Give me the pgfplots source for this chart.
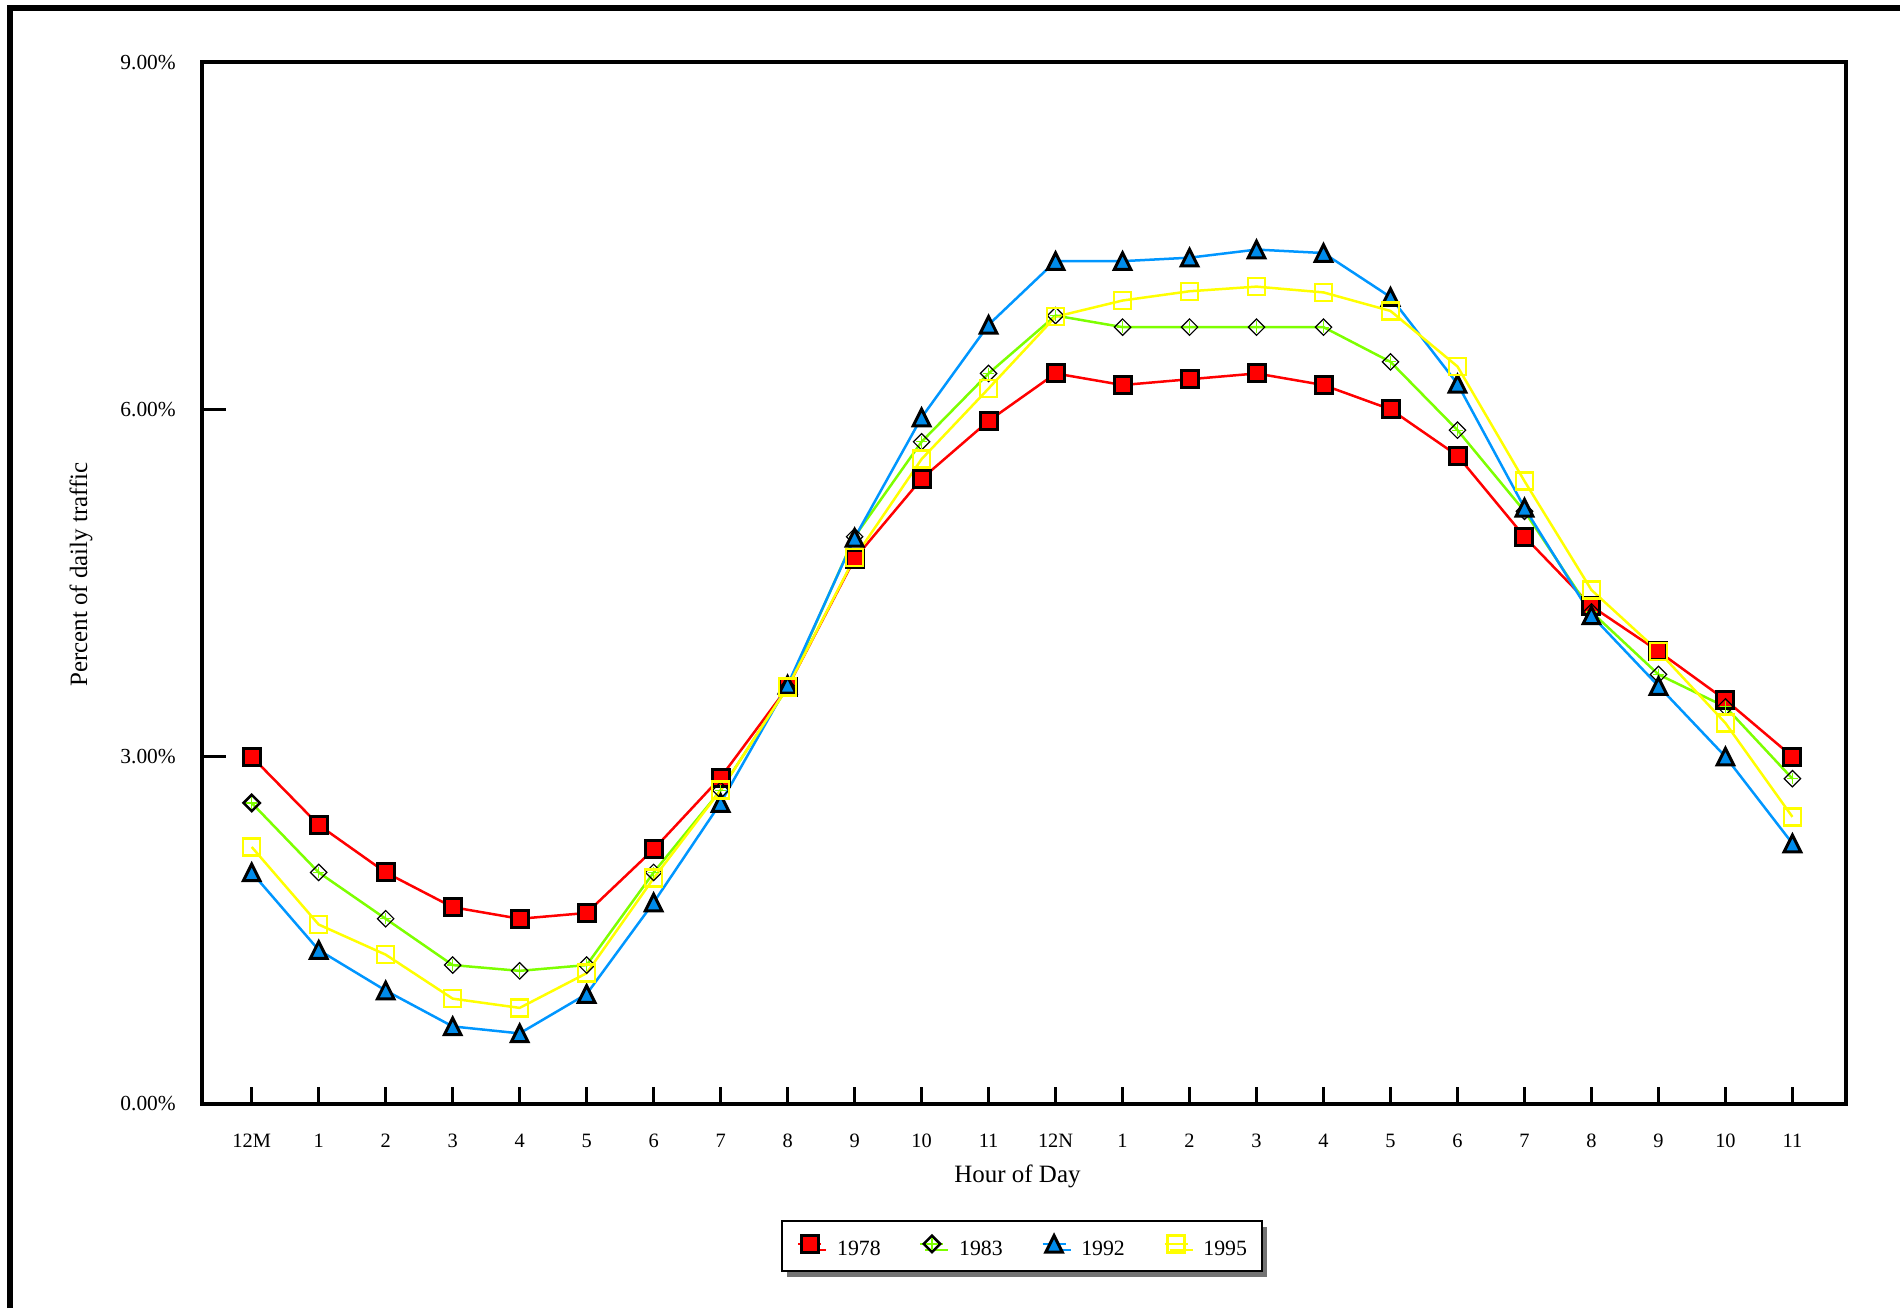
\documentclass[border=0pt]{standalone}
\usepackage{fontspec}
\setmainfont{Liberation Serif}
\usepackage{pgfplots}
\usepackage{pgfplotstable}
\pgfplotsset{compat=1.18}
\usetikzlibrary{shadows}

\definecolor{cred}{RGB}{255,0,0}
\definecolor{cgreen}{RGB}{125,255,0}
\definecolor{cblue}{RGB}{0,150,255}
\definecolor{cbluefill}{RGB}{0,140,235}
\definecolor{cyellow}{RGB}{255,255,0}

% hollow diamond with a thin green cross inside
\pgfdeclareplotmark{diamplus}{%
  \pgfpathmoveto{\pgfqpoint{0pt}{\pgfplotmarksize}}%
  \pgfpathlineto{\pgfqpoint{\pgfplotmarksize}{0pt}}%
  \pgfpathlineto{\pgfqpoint{0pt}{-\pgfplotmarksize}}%
  \pgfpathlineto{\pgfqpoint{-\pgfplotmarksize}{0pt}}%
  \pgfpathclose
  \pgfsetstrokecolor{black}%
  \pgfusepathqstroke
  \pgfsetlinewidth{0.12mm}%
  \pgfpathmoveto{\pgfqpoint{0pt}{0.7\pgfplotmarksize}}%
  \pgfpathlineto{\pgfqpoint{0pt}{-0.7\pgfplotmarksize}}%
  \pgfpathmoveto{\pgfqpoint{0.7\pgfplotmarksize}{0pt}}%
  \pgfpathlineto{\pgfqpoint{-0.7\pgfplotmarksize}{0pt}}%
  \pgfsetstrokecolor{cgreen}%
  \pgfusepathqstroke
}
% triangle centred on its bounding box
\pgfdeclareplotmark{tri}{%
  \pgfpathmoveto{\pgfqpoint{0pt}{\pgfplotmarksize}}%
  \pgfpathlineto{\pgfqpoint{\pgfplotmarksize}{-\pgfplotmarksize}}%
  \pgfpathlineto{\pgfqpoint{-\pgfplotmarksize}{-\pgfplotmarksize}}%
  \pgfpathclose
  \pgfusepathqfillstroke
}

% share of daily traffic per hour (percent)
\pgfplotstableread{
h  r78   g83   b92   y95
0  3.00  2.60  2.00  2.22
1  2.41  2.00  1.33  1.55
2  2.00  1.60  0.98  1.29
3  1.70  1.20  0.67  0.91
4  1.60  1.15  0.61  0.83
5  1.65  1.20  0.95  1.13
6  2.20  2.00  1.74  1.95
7  2.82  2.71  2.60  2.71
8  3.60  3.60  3.62  3.60
9  4.71  4.90  4.89  4.72
10 5.40  5.72  5.93  5.57
11 5.90  6.31  6.73  6.18
12 6.31  6.81  7.28  6.80
13 6.21  6.71  7.28  6.94
14 6.26  6.71  7.31  7.02
15 6.31  6.71  7.38  7.06
16 6.21  6.71  7.35  7.01
17 6.00  6.41  6.97  6.85
18 5.60  5.82  6.22  6.37
19 4.90  5.12  5.15  5.38
20 4.30  4.25  4.22  4.44
21 3.91  3.71  3.61  3.91
22 3.49  3.43  3.00  3.29
23 3.00  2.81  2.25  2.48
}\traffic

\begin{document}
\begin{tikzpicture}
\useasboundingbox (0,0) rectangle (190mm,130.8mm);
% page frame
\draw[line width=0.6mm] (0.95mm,0) -- (0.95mm,130.0mm) -- (190mm,130.0mm);

\begin{axis}[
  at={(20.2mm,20.4mm)}, anchor=south west,
  width=164.4mm, height=104.2mm, scale only axis,
  xmin=-0.742, xmax=23.80, ymin=0, ymax=9,
  axis line style={line width=0.4mm},
  xtick={0,...,23},
  xticklabels={12M,1,2,3,4,5,6,7,8,9,10,11,12N,1,2,3,4,5,6,7,8,9,10,11},
  ytick={0,3,6,9},
  yticklabels={0.00\%,3.00\%,6.00\%,9.00\%},
  tick align=inside, tick pos=left,
  tick style={line width=0.3mm, black},
  xtick style={/pgfplots/major tick length=1.7mm},
  ytick style={/pgfplots/major tick length=2.4mm},
  xticklabel style={anchor=base, inner sep=0pt, yshift=-4.35mm, font=\fontsize{5.8}{7}\selectfont},
  yticklabel style={anchor=east, inner sep=0pt, xshift=-2.55mm, font=\fontsize{6.1}{7}\selectfont},
  clip=false,
  legend columns=4,
  legend style={at={(axis description cs:0.4988,-0.1363)}, anchor=center,
    draw=black, line width=0.2mm, fill=white,
    inner xsep=1.55mm, inner ysep=1.4mm,
    drop shadow={shadow xshift=0.5mm, shadow yshift=-0.6mm, fill=black!55, opacity=1},
    font=\fontsize{6.2}{7}\selectfont,
    nodes={inner sep=0pt, text height=1.45mm, text depth=0.1mm},
    /tikz/every odd column/.append style={column sep=1.45mm},
    /tikz/every even column/.append style={column sep=3.85mm}},
  legend image code/.code={\draw[mark repeat=2,mark phase=2,#1] plot coordinates {(0mm,0.5mm)(1.15mm,0.5mm)(2.3mm,0.5mm)};},
]
\addplot[color=cred, line width=0.25mm, mark=square*, mark size=0.85mm,
  mark options={draw=black, fill=cred, line width=0.3mm}]
  table[x=h, y=r78] {\traffic};
\addlegendentry{1978}
\addplot[color=cgreen, line width=0.25mm, mark=diamplus, mark size=0.82mm,
  mark options={line width=0.25mm}]
  table[x=h, y=g83] {\traffic};
\addlegendentry{1983}
\addplot[color=cblue, line width=0.25mm, mark=tri, mark size=0.83mm,
  mark options={draw=black, fill=cbluefill, line width=0.3mm}]
  table[x=h, y=b92] {\traffic};
\addlegendentry{1992}
\addplot[color=cyellow, line width=0.25mm, mark=square, mark size=0.85mm,
  mark options={draw=cyellow, line width=0.25mm}]
  table[x=h, y=y95] {\traffic};
\addlegendentry{1995}
\end{axis}

\node[rotate=90, anchor=base, font=\fontsize{7.1}{8}\selectfont] at (8.7mm,73.35mm) {Percent of daily traffic};
\node[anchor=base, font=\fontsize{7.1}{8}\selectfont] at (101.75mm,12.5mm) {Hour of Day};
\end{tikzpicture}
\end{document}
